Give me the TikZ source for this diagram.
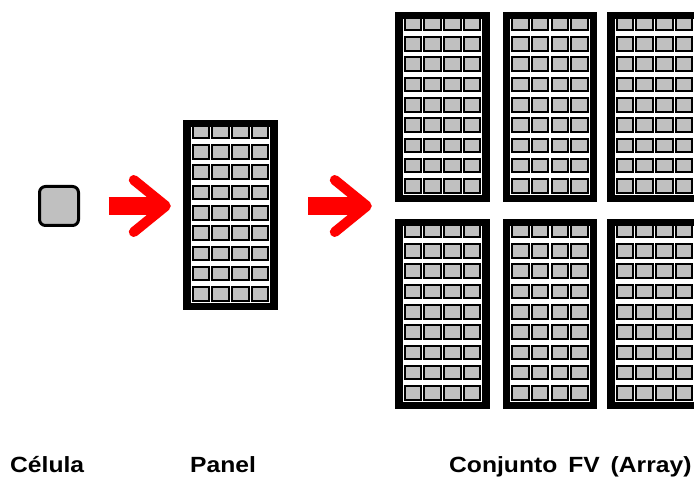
\documentclass[tikz,border=0pt]{standalone}
\usepackage{fontspec}
\setmainfont{Liberation Sans}
\newfontfamily\lblfont[FakeStretch=1.12, WordSpace=1.6]{Liberation Sans}
\definecolor{cellgray}{RGB}{192,192,192}
\definecolor{arrowred}{RGB}{255,0,0}
\usetikzlibrary{calc}

\begin{document}
\begin{tikzpicture}[
  x=1pt, y=1pt,
  bigcell/.style={draw, line width=3pt, rounded corners=6pt, fill=cellgray,
    minimum width=39pt, minimum height=39pt, inner sep=0pt},
  panelbg/.style={fill=white, minimum width=87pt, minimum height=183pt, inner sep=0pt},
  panelrim/.style={draw=black, line width=7.5pt},
  pvcell/.style={draw, line width=2pt, fill=cellgray, minimum width=16.5pt,
    minimum height=13.5pt, inner sep=0pt},
  shaft/.style={line width=18pt, arrowred},
  barb/.style={line width=10pt, arrowred, line cap=round, line join=round},
  lbl/.style={font=\lblfont\bfseries\fontsize{22}{26}\selectfont, anchor=base west, inner sep=0pt},
]
\useasboundingbox (0,0) rectangle (694,477);
\clip (0,0) rectangle (694,477);

% Cell
\node[bigcell] (cell) at (59,271) {};

% Panel and array: white board, 4x9 cells, black rim on top
\foreach \pname/\px/\py in {panel/230.5/262,
    arrA/442.5/370, arrB/550/370, arrC/654.5/370,
    arrD/442.5/163, arrE/550/163, arrF/654.5/163} {
  \node[panelbg] (\pname) at (\px,\py) {};
  \foreach \c in {0,...,3}
    \foreach \r in {0,...,8}
      \node[pvcell] (\pname-\c-\r) at ({\px+(\c-1.5)*19.6},{\py+2.2+(4-\r)*20.3}) {};
  \draw[panelrim] (\pname.south west) rectangle (\pname.north east);
}

% Arrows
\coordinate (tipA) at ($(panel.west |- cell.east)+(-21,0)$);
\draw[shaft] ([xshift=28.5]cell.east) -- ([xshift=-8]tipA);
\draw[barb] ([shift={(-32,26)}]tipA) -- (tipA) -- ([shift={(-32,-26)}]tipA);

\coordinate (tipB) at ($(arrA.west |- cell.east)+(-32,0)$);
\draw[shaft] ($(panel.east |- cell.east)+(34,0)$) -- ([xshift=-8]tipB);
\draw[barb] ([shift={(-32,26)}]tipB) -- (tipB) -- ([shift={(-32,-26)}]tipB);

% Labels
\node[lbl] (lblcell) at (10,4.3) {Célula};
\node[lbl] (lblpanel) at (190,4.3) {Panel};
\node[lbl] (lblarray) at (449,4.3) {Conjunto FV (Array)};
\end{tikzpicture}
\end{document}
